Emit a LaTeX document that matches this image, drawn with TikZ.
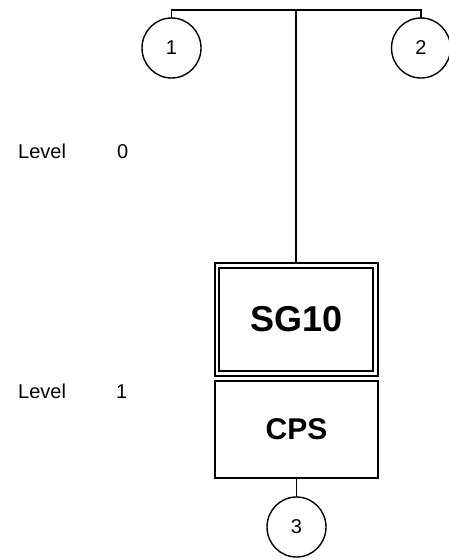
\documentclass[tikz,border=0pt]{standalone}
\usepackage{fontspec}
\setmainfont{Liberation Sans}
\usetikzlibrary{shapes.geometric}
\tikzset{
  conn/.style={draw=black, line width=1.8pt},
  num/.style={ellipse, draw=black, line width=1.4pt, minimum width=59pt, minimum height=60pt, inner sep=0pt, outer sep=0pt, font=\fontsize{20}{24}\selectfont},
  lvl/.style={anchor=base west, inner sep=0pt, font=\fontsize{20}{24}\selectfont},
}
\begin{document}
\begin{tikzpicture}[x=1pt,y=-1pt]
\useasboundingbox (0,0) rectangle (449,560);
% boxes
\node[draw=black, line width=2pt, double, double distance=2.5pt, minimum width=158.5pt, minimum height=108pt, inner sep=0pt, outer sep=3.25pt, font=\fontsize{36}{40}\selectfont\bfseries] (sg) at (296.25,319.5) {SG10};
\node[draw=black, line width=2pt, minimum width=163pt, minimum height=97pt, inner sep=0pt, outer sep=1pt, font=\fontsize{30}{34}\selectfont\bfseries] (cps) at (296.5,429.5) {CPS};
% circles
\node[num] (c1) at (171.5,48) {1};
\node[num] (c2) at (421,48) {2};
\node[num] (c3) at (296.5,527) {3};
% connectors
\coordinate (t) at (296.25,10);
\draw[conn] (c1.north) |- (t) -| (c2.north);
\draw[conn] (t) -- (sg.north);
\draw[conn] (cps.south) -- (c3.north);
% levels
\node[lvl] (l0) at (18,158.3) {Level};
\node[lvl] (n0) at (117,158.3) {0};
\node[lvl] (l1) at (18,398) {Level};
\node[lvl] (n1) at (116,398) {1};
\end{tikzpicture}
\end{document}
